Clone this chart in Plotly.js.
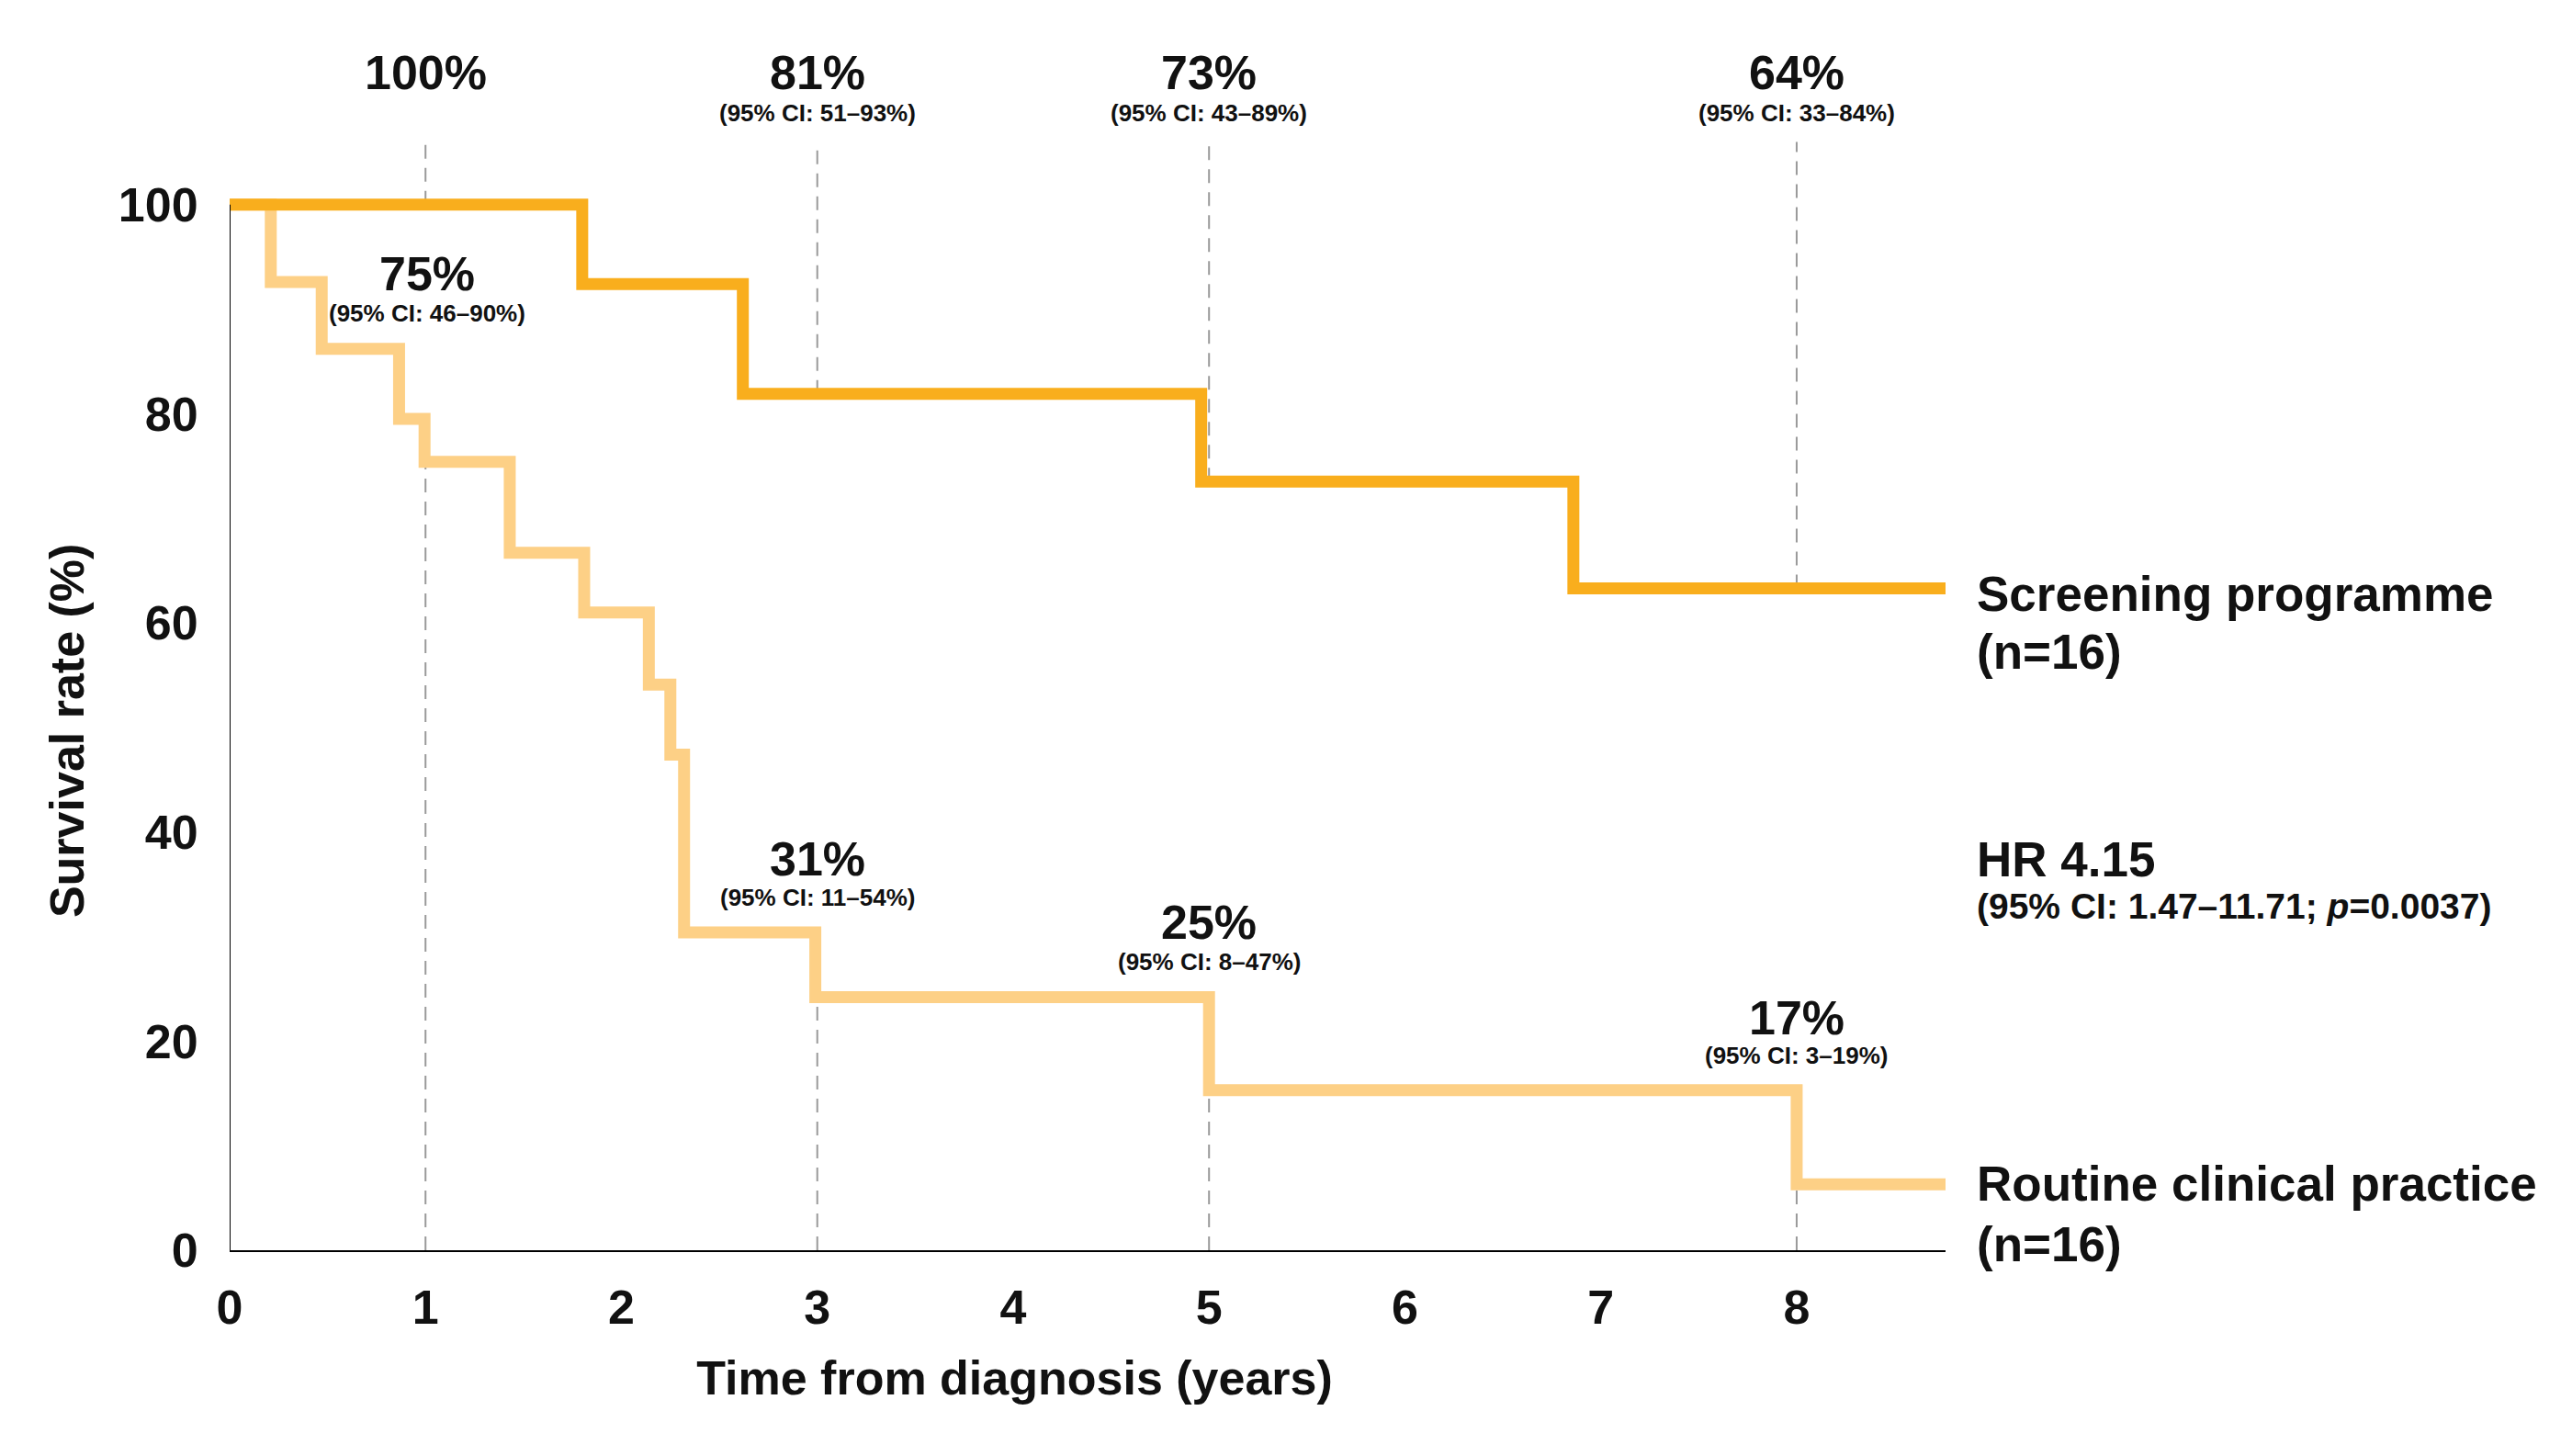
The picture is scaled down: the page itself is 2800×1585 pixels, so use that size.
<!DOCTYPE html>
<html>
<head>
<meta charset="utf-8">
<script src="https://cdn.plot.ly/plotly-3.0.1.min.js"></script>
<style>
  html, body { margin: 0; padding: 0; background: #ffffff; }
  #chart { width: 2800px; height: 1585px; }
</style>
</head>
<body>
<div id="chart"></div>
<script>
// ---- data ----
var screeningTimes  = [0, 1.80, 2.62, 4.96, 6.86, 8.76];
var screeningValues = [100, 92.4, 81.9, 73.5, 63.3, 63.3];

var routineTimes  = [0, 0.21, 0.47, 0.865, 0.995, 1.43, 1.81, 2.14, 2.25, 2.32, 2.99, 5.0, 8.0, 8.76];
var routineValues = [100, 92.6, 86.2, 79.5, 75.4, 66.7, 61.0, 54.1, 47.4, 30.4, 24.2, 15.3, 6.3, 6.3];

var xTicks = [0, 1, 2, 3, 4, 5, 6, 7, 8];
var yTicks = [0, 20, 40, 60, 80, 100];

var markerYears = [1, 3, 5, 8];
var screeningLabels = ['100%', '81%', '73%', '64%'];
var screeningCI = ['', '(95% CI: 51–93%)', '(95% CI: 43–89%)', '(95% CI: 33–84%)'];
var routineLabels = ['75%', '31%', '25%', '17%'];
var routineCI = ['(95% CI: 46–90%)', '(95% CI: 11–54%)', '(95% CI: 8–47%)', '(95% CI: 3–19%)'];

var seriesNames = ['Screening programme', 'Routine clinical practice'];
var seriesN = ['(n=16)', '(n=16)'];
var hrLabel = 'HR 4.15';
var hrCI = '(95% CI: 1.47–11.71; <i>p</i>=0.0037)';

// ---- helpers ----
function stepValue(times, values, t) {
  var v = values[0];
  for (var i = 0; i < times.length; i++) { if (times[i] <= t) v = values[i]; }
  return v;
}

var FONT = 'Liberation Sans, Arial, Helvetica, sans-serif';
var DARK = '#F9AE1D';
var LIGHT = '#FDD086';
var xMax = screeningTimes[screeningTimes.length - 1];
var yMax = 107;
var dashTop = 106;

var traces = [
  { x: routineTimes, y: routineValues, type: 'scatter', mode: 'lines',
    line: { shape: 'hv', color: LIGHT, width: 13 }, name: seriesNames[1], hoverinfo: 'skip' },
  { x: screeningTimes, y: screeningValues, type: 'scatter', mode: 'lines',
    line: { shape: 'hv', color: DARK, width: 13 }, name: seriesNames[0], hoverinfo: 'skip' }
];

var shapes = [];
// y axis line (0..100 only)
shapes.push({ type: 'line', xref: 'x', yref: 'y', x0: 0, x1: 0, y0: yTicks[0], y1: yTicks[yTicks.length - 1],
  line: { color: '#000000', width: 2 }, layer: 'above' });
markerYears.forEach(function (t) {
  var sv = stepValue(screeningTimes, screeningValues, t);
  var rv = stepValue(routineTimes, routineValues, t);
  shapes.push({ type: 'line', xref: 'x', yref: 'y', x0: t, x1: t, y0: sv, y1: dashTop,
    line: { color: '#9a9a9a', width: 2, dash: '15px,10px' }, layer: 'below' });
  shapes.push({ type: 'line', xref: 'x', yref: 'y', x0: t, x1: t, y0: 0, y1: rv,
    line: { color: '#9a9a9a', width: 2, dash: '15px,10px' }, layer: 'below' });
});

var annotations = [];
// positions given in data units, converted to paper fractions so labels outside the axes stay visible
function addText(text, x, y, size, xanchor) {
  annotations.push({ text: text, x: x / xMax, y: y / yMax, xref: 'paper', yref: 'paper', showarrow: false,
    xanchor: xanchor || 'center', yanchor: 'middle', align: 'left',
    font: { family: FONT, size: size, color: '#111111', weight: 700 } });
}
var bigSize = 52, ciSize = 26;
var topMain = 112.6, topCI = 108.8;
markerYears.forEach(function (t, i) {
  addText(screeningLabels[i], t, topMain, bigSize);
  if (screeningCI[i]) addText(screeningCI[i], t, topCI, ciSize);
});
var routinePos = [[93.4, 89.6], [37.4, 33.7], [31.4, 27.6], [22.2, 18.6]];
var routineX = [1.01, 3, 5, 8];
routineLabels.forEach(function (lab, i) {
  addText(lab, routineX[i], routinePos[i][0], bigSize);
  addText(routineCI[i], routineX[i], routinePos[i][1], ciSize);
});
var rightX = 8.91;
addText(seriesNames[0], rightX, 62.8, 53, 'left');
addText(seriesN[0], rightX, 57.2, 53, 'left');
addText(hrLabel, rightX, 37.4, 53, 'left');
addText(hrCI, rightX, 32.9, 39, 'left');
addText(seriesNames[1], rightX, 6.4, 53, 'left');
addText(seriesN[1], rightX, 0.6, 53, 'left');

var NB = '\u00A0';
var layout = {
  width: 2800, height: 1585,
  paper_bgcolor: '#ffffff', plot_bgcolor: '#ffffff',
  margin: { l: 250, r: 682, t: 143, b: 224, pad: 0 },
  showlegend: false,
  font: { family: FONT, color: '#111111' },
  xaxis: {
    range: [0, xMax], tickvals: xTicks, ticktext: xTicks.map(String),
    showgrid: false, zeroline: false, showline: true, linecolor: '#000000', linewidth: 2,
    ticks: 'outside', ticklen: 16, tickcolor: 'rgba(0,0,0,0)',
    tickfont: { family: FONT, size: 52, color: '#111111', weight: 700 },
    title: { text: 'Time from diagnosis (years)<span>' + NB.repeat(11) + '</span>', standoff: 30,
      font: { family: FONT, size: 52, color: '#111111', weight: 700 } },
    fixedrange: true
  },
  yaxis: {
    range: [0, yMax], tickvals: yTicks, ticktext: yTicks.map(String),
    showgrid: false, zeroline: false, showline: false,
    ticks: 'outside', ticklen: 23, tickcolor: 'rgba(0,0,0,0)',
    tickfont: { family: FONT, size: 52, color: '#111111', weight: 700 },
    title: { text: 'Survival rate (%)<span>' + NB.repeat(6) + '</span>', standoff: 20,
      font: { family: FONT, size: 52, color: '#111111', weight: 700 } },
    fixedrange: true
  },
  shapes: shapes,
  annotations: annotations
};

Plotly.newPlot('chart', traces, layout, { staticPlot: true, displayModeBar: false });
</script>
</body>
</html>
